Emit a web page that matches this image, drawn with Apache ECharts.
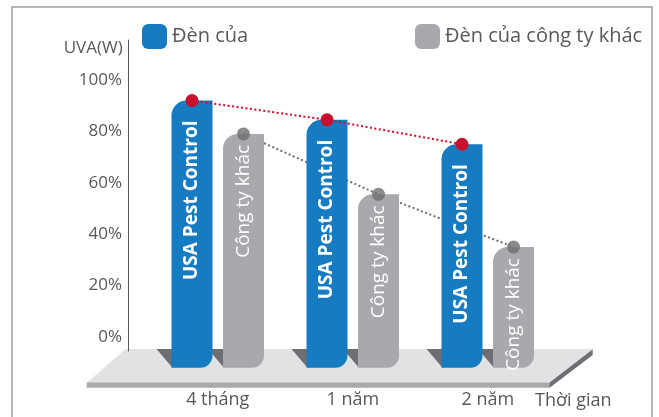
<!DOCTYPE html>
<html>
<head>
<meta charset="utf-8">
<script src="https://cdn.jsdelivr.net/npm/echarts@6/dist/echarts.min.js"></script>
<style>
html,body{margin:0;padding:0;background:#fff;}
#c{width:659px;height:417px;}
</style>
</head>
<body>
<div id="c"></div>
<script>
// ---- data ----
const CATEGORIES = ['4 tháng', '1 năm', '2 năm'];
const OUR_VALUES = [92, 84.5, 75];
const OTHER_VALUES = [79, 55.5, 35];
const Y_TICKS = [0, 20, 40, 60, 80, 100];
const SERIES_NAMES = ['Đèn của', 'Đèn của công ty khác'];
const BAR_TEXTS = ['USA Pest Control', 'Công ty khác'];
const Y_NAME = 'UVA(W)';
const X_NAME = 'Thời gian';

// ---- style ----
const FONT = 'Open Sans';
const TXT = '#58595b';
const BLUE = '#167bc1';
const GRAY = '#a7a9ac';
const RED = '#c8102e';
const DARK = '#6d6e71';
const GRID_LEFT = 150.25, GRID_W = 405, GRID_TOP = 40, GRID_BOTTOM = 66;
const BAR_W = 41, BAR_GAP_PX = 10.5;
const BAR_BASE = -11.95;            // bars sink into the floor below the 0% line
const BAND = GRID_W / CATEGORIES.length;
const OFF = (BAR_W + BAR_GAP_PX) / 2 / BAND;

const chart = echarts.init(document.getElementById('c'));

const ourPts = OUR_VALUES.map((v, i) => [i + 0.5 - OFF, v]);
const otherPts = OTHER_VALUES.map((v, i) => [i + 0.5 + OFF, v]);

function barRender(sign, color, text, dist, weight) {
  return function (params, api) {
    const i = api.value(0), v = api.value(1);
    const top = api.coord([i, v]);
    const base = api.coord([i, BAR_BASE]);
    const cx = top[0] + sign * (BAR_W + BAR_GAP_PX) / 2;
    return {
      type: 'group',
      children: [
        { type: 'rect', shape: { x: cx - BAR_W / 2, y: top[1], width: BAR_W, height: base[1] - top[1], r: [15, 0, 12, 0] },
          style: { fill: color } },
        { type: 'text', x: cx, y: top[1] + dist, rotation: Math.PI / 2,
          style: { text: text, fill: '#fff', fontSize: 19, fontWeight: weight, fontFamily: FONT, align: 'right', verticalAlign: 'middle' } }
      ]
    };
  };
}

chart.setOption({
  animation: false,
  textStyle: { fontFamily: FONT },
  grid: { left: GRID_LEFT, width: GRID_W, top: GRID_TOP, bottom: GRID_BOTTOM },
  legend: [
    { data: [SERIES_NAMES[0]], left: 142, top: 24, padding: 0, itemWidth: 25, itemHeight: 25,
      icon: 'roundRect', textStyle: { fontSize: 20, color: TXT, fontFamily: FONT } },
    { data: [SERIES_NAMES[1]], left: 415, top: 24, padding: 0, itemWidth: 25, itemHeight: 25,
      icon: 'roundRect', textStyle: { fontSize: 20, color: TXT, fontFamily: FONT } }
  ],
  xAxis: [
    { type: 'category', data: CATEGORIES, axisLine: { show: false }, axisTick: { show: false },
      axisLabel: { fontSize: 18, color: TXT, margin: 40, fontFamily: FONT } },
    { type: 'value', min: 0, max: CATEGORIES.length, show: false }
  ],
  yAxis: {
    type: 'value', min: -5.45, max: 115.56, offset: GRID_LEFT - 128,
    axisLine: { show: true, onZero: false, lineStyle: { color: TXT, width: 1 } },
    axisTick: { show: false }, splitLine: { show: false },
    axisLabel: { customValues: Y_TICKS, formatter: '{value}%', fontSize: 17, color: TXT, margin: 6, fontFamily: FONT }
  },
  series: [
    { name: SERIES_NAMES[0], type: 'custom', data: OUR_VALUES.map((v, i) => [i, v]), encode: { x: 0, y: 1 },
      z: 3, itemStyle: { color: BLUE }, renderItem: barRender(-1, BLUE, BAR_TEXTS[0], 20, 'bold') },
    { name: SERIES_NAMES[1], type: 'custom', data: OTHER_VALUES.map((v, i) => [i, v]), encode: { x: 0, y: 1 },
      z: 3, itemStyle: { color: GRAY }, renderItem: barRender(1, GRAY, BAR_TEXTS[1], 11, 'normal') },
    { type: 'line', xAxisIndex: 1, data: otherPts, showSymbol: false, z: 1,
      lineStyle: { color: DARK, width: 2, type: [2, 2.5] } },
    { type: 'scatter', xAxisIndex: 1, data: otherPts, symbolSize: 13, z: 6,
      itemStyle: { color: DARK } },
    { type: 'line', xAxisIndex: 1, data: ourPts, symbol: 'circle', symbolSize: 13, z: 6,
      itemStyle: { color: RED }, lineStyle: { color: RED, width: 2, type: [2, 2.5] } }
  ]
});

// decorations: frame, floor, bar shadows
const g = [];
g.push({ type: 'rect', shape: { x: 12, y: 7, width: 640, height: 430 }, z: 0,
  style: { fill: 'none', stroke: '#a0a0a0', lineWidth: 1.5 } });
g.push({ type: 'polygon', z: 0, shape: { points: [[125.7, 349], [592.7, 349], [549.3, 382.7], [86.7, 382.7]] }, style: { fill: '#e1e2e3' } });
g.push({ type: 'polygon', z: 0, shape: { points: [[86.7, 382.5], [549.3, 382.5], [549.3, 387.8], [86.7, 387.8]] }, style: { fill: GRAY } });
g.push({ type: 'polygon', z: 0, shape: { points: [[549.3, 382.7], [592.7, 349.2], [592.7, 355], [549.3, 388]] }, style: { fill: DARK } });
const floorY = chart.convertToPixel({ yAxisIndex: 0 }, BAR_BASE);
CATEGORIES.forEach((c, i) => {
  const cx = chart.convertToPixel({ xAxisIndex: 0 }, i);
  const lefts = [cx - BAR_GAP_PX / 2 - BAR_W, cx + BAR_GAP_PX / 2];
  lefts.forEach(L => {
    g.push({ type: 'polygon', z: 1, shape: { points: [[L - 15, 349], [L + 1, 349], [L + 1, floorY]] }, style: { fill: DARK } });
  });
});
g.push({ type: 'text', z: 2, x: 122.7, y: 48, style: { text: Y_NAME, fill: TXT, fontSize: 17, fontFamily: FONT, align: 'right', verticalAlign: 'middle' } });
g.push({ type: 'text', z: 2, x: 535, y: 400.7, style: { text: X_NAME, fill: TXT, fontSize: 18, fontFamily: FONT, align: 'left', verticalAlign: 'middle' } });
chart.setOption({ graphic: g });
</script>
</body>
</html>
